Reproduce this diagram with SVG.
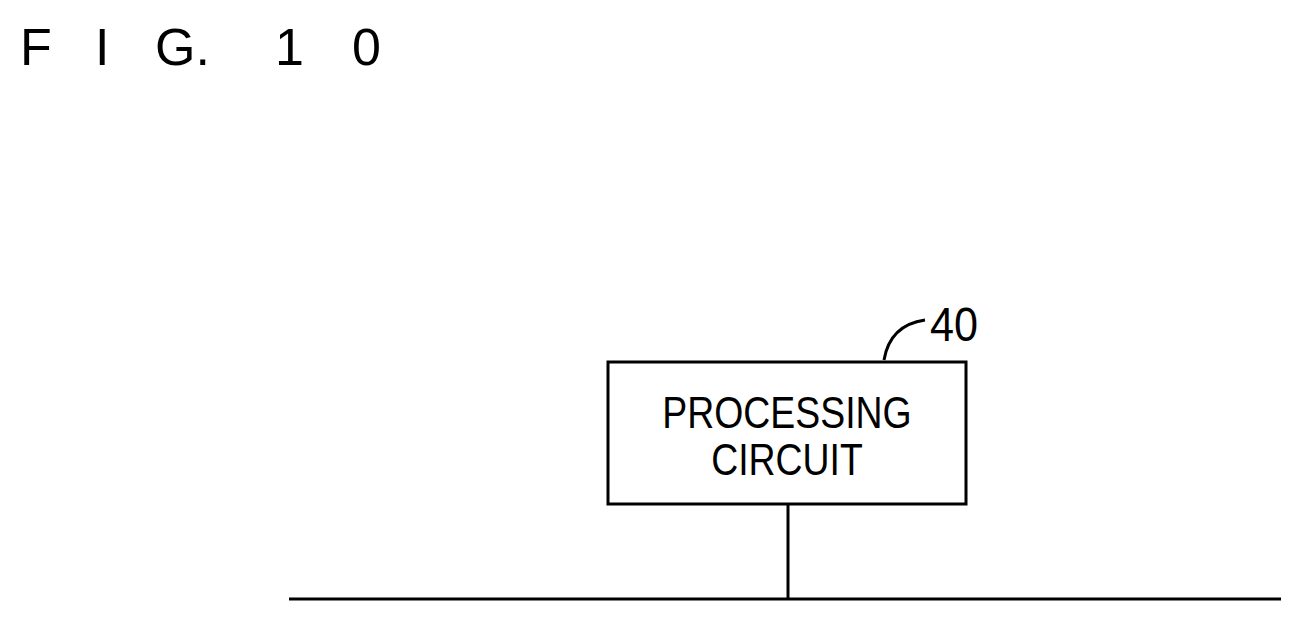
<svg xmlns="http://www.w3.org/2000/svg" width="1302" height="624" viewBox="0 0 1302 624">
<style>.t{font-family:"Liberation Sans",Arial,sans-serif;fill:#000}.l{stroke:#000;stroke-width:3;fill:none}</style>
<rect width="1302" height="624" fill="#fff"/>
<text class="t" font-size="52"><tspan x="20" y="65">F</tspan><tspan x="95" y="65">I</tspan><tspan x="155" y="65">G.</tspan><tspan x="275" y="65">1</tspan><tspan x="352" y="65">0</tspan></text>
<g id="node40">
<rect class="l" x="608" y="362" width="358" height="142"/>
<text class="t" x="787" y="428" font-size="44" text-anchor="middle" transform="scale(0.85 1)" transform-origin="787 428">PROCESSING</text>
<text class="t" x="787" y="475" font-size="44" text-anchor="middle" transform="scale(0.85 1)" transform-origin="787 475">CIRCUIT</text>
<text class="t" x="930" y="341" font-size="48" transform="scale(0.9 1)" transform-origin="930 341">40</text>
</g>
<g id="connectors">
<path class="l" d="M884 360 Q890 325 925 320"/>
<path class="l" d="M788 504 V600"/>
<path class="l" d="M289 599 H1281"/>
</g>
</svg>
